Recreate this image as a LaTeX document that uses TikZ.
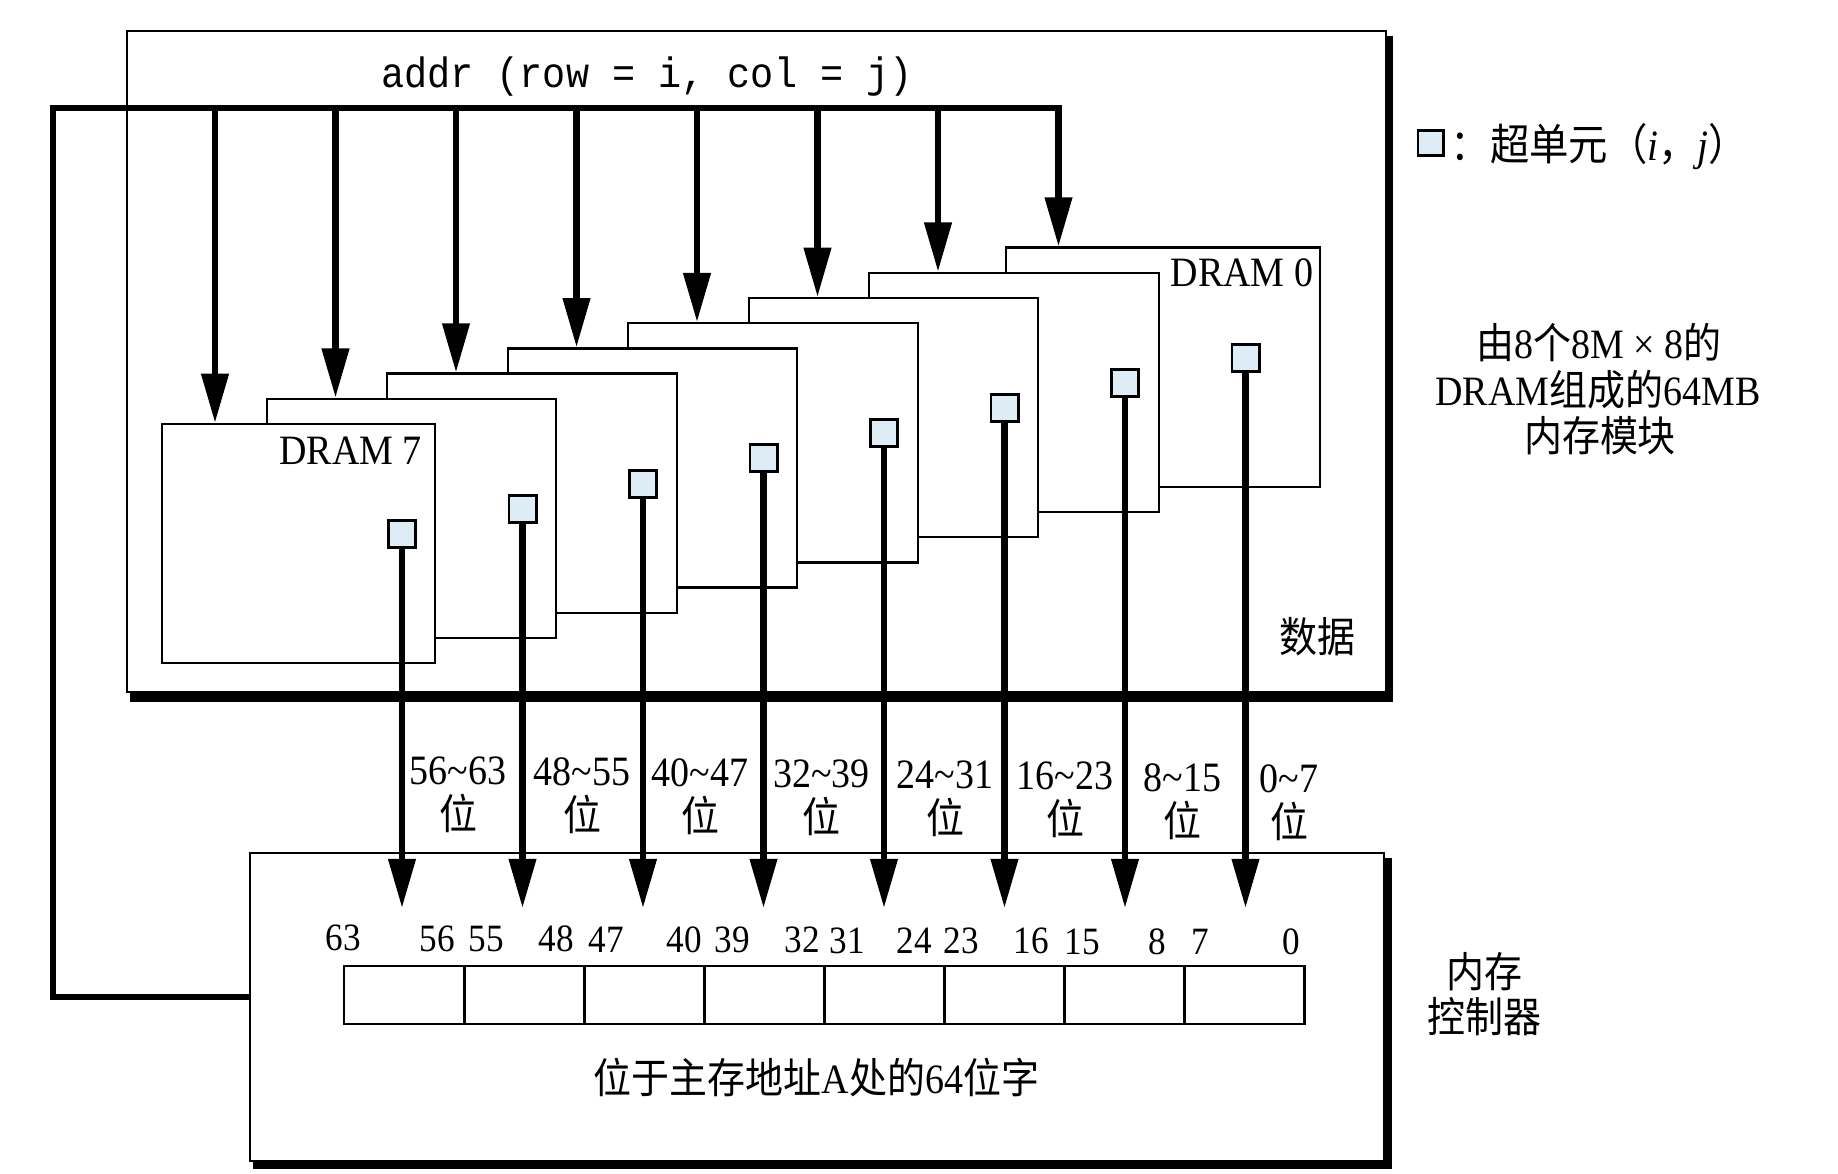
\documentclass[tikz,border=0pt]{standalone}
\usepackage{fontspec}
\setmainfont{Liberation Serif}
\setmonofont{Liberation Mono}
\newfontfamily\cjkfont{Noto Sans CJK SC}
\newcommand\zh[1]{{\cjkfont #1}}
\newcommand\vs[1]{\scalebox{1}[1.1]{#1}}
\usetikzlibrary{arrows.meta,calc}
\definecolor{sqfill}{RGB}{222,237,245}
\newcommand\lfont{\fontsize{10.8pt}{13pt}\selectfont}
\newcommand\bfontsz{\fontsize{10pt}{12pt}\selectfont}
\begin{document}
\begin{tikzpicture}[x=0.01cm,y=-0.01cm,
  bus/.style={line width=1.8pt, line join=miter, -{Triangle[length=14pt,width=7.5pt]}},
  shadowline/.style={line width=2.3pt},
  bigbox/.style={draw, line width=0.6pt, anchor=north west, inner sep=0pt},
  drambox/.style={draw, line width=0.65pt, fill=white, anchor=north west, inner sep=0pt, minimum height=2.39cm},
  supercell/.style={draw, line width=0.85pt, fill=sqfill, minimum size=0.27cm, inner sep=0pt},
  regcell/.style={draw, line width=0.7pt, anchor=north west, inner sep=0pt, minimum width=1.2cm, minimum height=0.575cm},
  lbl/.style={font=\lfont, inner sep=0pt, anchor=base},
  blbl/.style={font=\bfontsz, inner sep=0pt, anchor=base},
]
\useasboundingbox[fill=white] (0,0) rectangle (1838,1174);

% memory module box
\node[bigbox, minimum width=12.58cm, minimum height=6.61cm] (mod) at (126,30) {};
\draw[shadowline] ($(mod.north east)+(2,6)$) -- ($(mod.south east)+(2,4)$) -- ($(mod.south west)+(4,4)$);

% address text
\node[font=\ttfamily\fontsize{10.95pt}{13pt}\selectfont, inner sep=0pt, anchor=base] (addr) at (647,88) {\vs{addr (row = i, col = j)}};

% DRAM chips (back to front)
\foreach \d/\l/\w in {0/1005/3.14, 1/868/2.90, 2/748/2.89, 3/627/2.90, 4/506.5/2.895, 5/386/2.90, 6/266/2.885, 7/161/2.73} {
  \pgfmathsetmacro\t{246.5+25.2*\d}
  \node[drambox, minimum width=\w cm] (d\d) at (\l,\t) {};
}
\node[lbl] (dl7) at (350.6,465) {\vs{DRAM 7}};
\node[lbl] (dl0) at (1242,287) {\vs{DRAM 0}};

% supercells
\foreach \d in {0,...,7} {
  \pgfmathsetmacro\sx{402+120.5*(7-\d)}
  \pgfmathsetmacro\sy{534-25.2*(7-\d)}
  \node[supercell] (s\d) at (\sx,\sy) {};
}

% memory controller
\node[bigbox, minimum width=11.33cm, minimum height=3.08cm] (ctrl) at (249,852) {};
\draw[shadowline] ($(ctrl.north east)+(3,6)$) -- ($(ctrl.south east)+(3,3)$) -- ($(ctrl.south west)+(4,3)$);

% register
\foreach \d in {0,...,7} {
  \node[regcell] (r\d) at ({343+120*(7-\d)},965) {};
}

% address bus
\coordinate (cin) at (249,997);
\coordinate (bl) at (53,997);
\coordinate (tl) at (53,108);
\foreach \d in {0,...,7} {
  \coordinate (b\d) at ({215+120.5*(7-\d)},108);
}
\draw[bus] (cin) -- (bl) -- (tl) -- (b0) -- (b0 |- d0.north);
\foreach \d in {1,...,7} {
  \draw[bus] (b\d) -- (b\d |- d\d.north);
}

% data lines
\foreach \d in {0,...,7} {
  \draw[bus] (s\d.south) -- ($(s\d |- r\d.north)+(0,-57)$);
}

% range labels
\foreach \i/\x/\t in {0/458/56\textasciitilde63, 1/582/48\textasciitilde55, 2/700/40\textasciitilde47, 3/821.6/32\textasciitilde39, 4/945/24\textasciitilde31, 5/1065/16\textasciitilde23, 6/1182.5/8\textasciitilde15, 7/1289/0\textasciitilde7} {
  \pgfmathsetmacro\yy{784.5+1.1*\i}
  \pgfmathsetmacro\yw{829.5+1.1*\i}
  \node[lbl] (rn\i) at (\x,\yy) {\vs{\t}};
  \node[lbl] (rw\i) at (\x,\yw) {\vs{\zh{位}}};
}

% bit labels
\foreach \n/\x in {63/343, 56/437, 55/486, 48/556, 47/606, 40/684, 39/732, 32/802, 31/847, 24/914, 23/961.5, 16/1031.5, 15/1082, 8/1157, 7/1200, 0/1291} {
  \pgfmathsetmacro\yy{951+4*(\x-343)/960}
  \node[blbl] (bit\n) at (\x,\yy) {\vs{\n}};
}

% other texts
\node[lbl] (word) at (816.5,1094) {\vs{\zh{位于主存地址}A\zh{处的}64\zh{位字}}};
\node[lbl] (data) at (1317,653) {\vs{\zh{数据}}};
\node[lbl] (ctl1) at (1484.5,988) {\vs{\zh{内存}}};
\node[lbl] (ctl2) at (1484.5,1033) {\vs{\zh{控制器}}};
\node[lbl] (desc1) at (1599,359) {\vs{\zh{由}8\zh{个}8M × 8\zh{的}}};
\node[lbl] (desc2) at (1598,406) {\vs{DRAM\zh{组成的}64MB}};
\node[lbl] (desc3) at (1600,452) {\vs{\zh{内存模块}}};

% legend
\node[supercell, minimum size=0.25cm] (legsq) at (1430.5,143.5) {};
\node[font=\fontsize{11.2pt}{13pt}\selectfont, inner sep=0pt, anchor=base west] (legtxt) at (1450,161) {\vs{\zh{：超单元（}\textit{i}\zh{，}\textit{j}\zh{）}}};
\end{tikzpicture}
\end{document}
